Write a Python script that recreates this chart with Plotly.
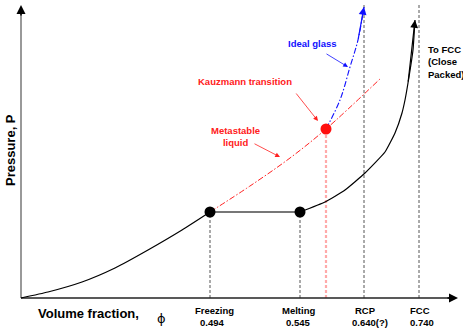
import plotly.graph_objects as go

# Schematic coordinates (arbitrary units): x = schematic volume-fraction position, y = pressure
liquid_x = [0, 27, 61, 94, 127, 161, 189]
liquid_y = [0, 6, 16, 30, 48, 68, 86]
crystal_x = [279, 304, 324, 344, 364, 374, 381, 384, 387, 392, 394]
crystal_y = [86, 96, 108, 125, 146, 165, 185, 198, 215, 248, 278]
meta_x = [189, 229, 269, 305, 360]
meta_y = [86, 112, 140, 169, 220]
glass_x = [305, 319, 329, 337, 342, 343]
glass_y = [169, 198, 231, 258, 285, 291]
coex_x = [189, 279]
coex_y = [86, 86]
kauz_x = [305]
kauz_y = [169]

tick_pos = [189, 279, 343, 398]
tick_names = ["Freezing", "Melting", "RCP", "FCC"]
tick_values = ["0.494", "0.545", "0.640(?)", "0.740"]
tick_tops = [86, 86, 293, 293]
tick_name_dx = [4, -2, 1, 1]
tick_val_dx = [2, -2, 6, 3]

X_END, Y_END = 437, 293
FONT = "Liberation Sans, Arial, sans-serif"

fig = go.Figure()

# vertical dashed guide lines
for xp, top in zip(tick_pos, tick_tops):
    fig.add_trace(go.Scatter(x=[xp, xp], y=[0, top], mode="lines",
                             line=dict(color="#555555", width=1, dash="3px,2px"),
                             hoverinfo="skip", showlegend=False))
fig.add_trace(go.Scatter(x=[kauz_x[0], kauz_x[0]], y=[0, kauz_y[0]], mode="lines",
                         line=dict(color="#ffaaaa", width=2.2, dash="3px,2px"),
                         hoverinfo="skip", showlegend=False))

# axes
fig.add_trace(go.Scatter(x=[0, 0], y=[0, Y_END - 6], mode="lines",
                         line=dict(color="#999999", width=2), showlegend=False, hoverinfo="skip"))
fig.add_trace(go.Scatter(x=[0, X_END - 6], y=[0, 0], mode="lines",
                         line=dict(color="#222222", width=1.5), showlegend=False, hoverinfo="skip"))

# curves
fig.add_trace(go.Scatter(x=liquid_x, y=liquid_y, mode="lines", line=dict(color="black", width=1.2, shape="spline", smoothing=0.5),
                         showlegend=False))
fig.add_trace(go.Scatter(x=crystal_x, y=crystal_y, mode="lines", line=dict(color="black", width=1.2, shape="spline", smoothing=0.4),
                         showlegend=False))
fig.add_trace(go.Scatter(x=coex_x, y=coex_y, mode="lines", line=dict(color="#777777", width=2),
                         showlegend=False))
fig.add_trace(go.Scatter(x=meta_x, y=meta_y, mode="lines", line=dict(color="#ff2020", width=1, dash="6px,2px,1.5px,2px", shape="spline"),
                         showlegend=False))
fig.add_trace(go.Scatter(x=glass_x, y=glass_y, mode="lines", line=dict(color="#1010ff", width=1.1, dash="6px,2px,1.5px,2px", shape="spline"),
                         showlegend=False))
fig.add_trace(go.Scatter(x=coex_x, y=coex_y, mode="markers", marker=dict(color="black", size=11),
                         showlegend=False))
fig.add_trace(go.Scatter(x=kauz_x, y=kauz_y, mode="markers", marker=dict(color="#ff1010", size=11),
                         showlegend=False))

ann = []
def arrow(x, y, ax, ay, color, width=1, size=1, head=2):
    ann.append(dict(x=x, y=y, ax=ax, ay=ay, xref="x", yref="y", axref="x", ayref="y",
                    text="", showarrow=True, arrowhead=head, arrowsize=size, arrowwidth=width,
                    arrowcolor=color))

# axis arrowheads
arrow(0, Y_END, 0, Y_END - 12, "black", 1.5, 1.2)
arrow(X_END, 0, X_END - 12, 0, "black", 1.5, 1.2)
# curve arrowheads
arrow(glass_x[-1], glass_y[-1], glass_x[-3], glass_y[-3], "#1010ff", 1.2, 1.3)
arrow(crystal_x[-1], crystal_y[-1], crystal_x[-3], crystal_y[-3], "black", 1.2, 1.3)
# label pointers
arrow(327, 231, 304, 245, "#1010ff", 0.8, 1.2)
arrow(297, 177, 274, 206, "#ff2020", 0.8, 1.2)
arrow(259, 141, 232, 155, "#ff2020", 0.8, 1.2)

def text(x, y, s, color="black", size=9.5, xanchor="center"):
    ann.append(dict(x=x, y=y, xref="x", yref="y", text=f"<b>{s}</b>", showarrow=False,
                    font=dict(family=FONT, size=size, color=color), xanchor=xanchor, yanchor="middle"))

text(291, 255, "Ideal glass", "#1010ff")
text(224, 217, "Kauzmann transition", "#ff2020")
text(214, 162, "Metastable<br>liquid", "#ff2020")
ann.append(dict(x=405, y=236, xref="x", yref="y", text="<b>To FCC<br>(Close<br>Packed)</b>", showarrow=False,
                font=dict(family=FONT, size=9.5, color="black"), xanchor="left", yanchor="middle", align="left"))

for xp, nm, vl, dn, dv in zip(tick_pos, tick_names, tick_values, tick_name_dx, tick_val_dx):
    text(xp + dn, -12, nm)
    text(xp + dv, -24, vl)

text(67, -15, "Volume fraction,", size=13)
ann.append(dict(x=140, y=-20, xref="x", yref="y", text="\u03d5", showarrow=False,
                font=dict(family="DejaVu Sans, sans-serif", size=13, color="black")))
ann.append(dict(x=-11, y=148, xref="x", yref="y", text="<b>Pressure, P</b>", showarrow=False, textangle=-90,
                font=dict(family=FONT, size=13, color="black")))

fig.update_layout(
    width=463, height=328, margin=dict(l=0, r=0, t=0, b=0),
    paper_bgcolor="white", plot_bgcolor="white",
    xaxis=dict(range=[-21, 442], visible=False, fixedrange=True),
    yaxis=dict(range=[-30, 298], visible=False, fixedrange=True),
    annotations=ann, showlegend=False,
)
fig.write_html("out.html", config={"displayModeBar": False},
               post_script="document.body.style.margin='0';document.body.style.overflow='hidden';")
